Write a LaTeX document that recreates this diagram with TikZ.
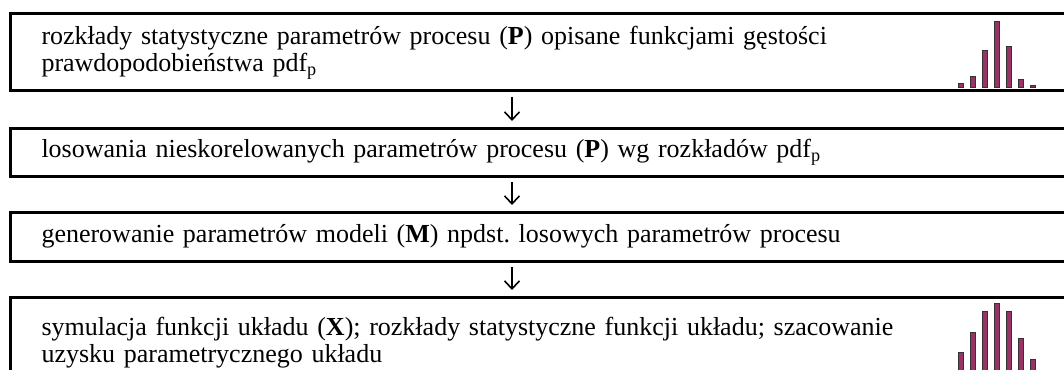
\documentclass[tikz,border=0pt]{standalone}
\usepackage{fontspec}
\setmainfont{Liberation Serif}
\usetikzlibrary{positioning,arrows.meta}
\definecolor{barplum}{RGB}{153,51,102}

\begin{document}
\begin{tikzpicture}[x=0.5pt, y=-0.5pt, node distance=18pt, line width=1.5pt,
    stage/.style={draw, anchor=north west, outer sep=0pt, inner xsep=15.5pt, inner ysep=0pt,
      text width=530pt, align=left, font=\fontsize{13}{13.5}\selectfont},
    bar/.style={draw=black!80, line width=0.5pt, fill=barplum},
    flow/.style={-{Straight Barb[length=4pt,width=7.5pt]}, line width=0.8pt,
      shorten <=3pt, shorten >=3.5pt}]
  \useasboundingbox (0,0) rectangle (1064,369);
  \clip (0,0) rectangle (1064,369);
  \node[stage, minimum height=38.5pt] (b1) at (10.5,14)
    {rozkłady statystyczne parametrów procesu (\textbf{P}) opisane funkcjami gęstości\\
     prawdopodobieństwa pdf\textsubscript{p}};
  \node[stage, minimum height=24pt, below=18.5pt of b1] (b2)
    {losowania nieskorelowanych parametrów procesu (\textbf{P}) wg rozkładów pdf\textsubscript{p}};
  \node[stage, minimum height=24.5pt, below=of b2] (b3)
    {generowanie parametrów modeli (\textbf{M}) npdst.\ losowych parametrów procesu};
  \node[stage, minimum height=45.5pt, below=of b3] (b4)
    {symulacja funkcji układu (\textbf{X}); rozkłady statystyczne funkcji układu; szacowanie\\
     uzysku parametrycznego układu};
  \coordinate (axis) at (512,0);
  \draw[flow] (b1.south -| axis) -- (b2.north -| axis);
  \draw[flow] (b2.south -| axis) -- (b3.north -| axis);
  \draw[flow] (b3.south -| axis) -- (b4.north -| axis);
  \foreach \i/\t in {0/84,1/77,2/51,3/22,4/47,5/80,6/86}
    \draw[bar] (958+12*\i,\t) rectangle (963+12*\i,88);
  \foreach \i/\t in {0/352,1/332,2/311,3/303,4/311,5/338,6/359}
    \draw[bar] (958+12*\i,\t) rectangle (963+12*\i,380);
\end{tikzpicture}
\end{document}
